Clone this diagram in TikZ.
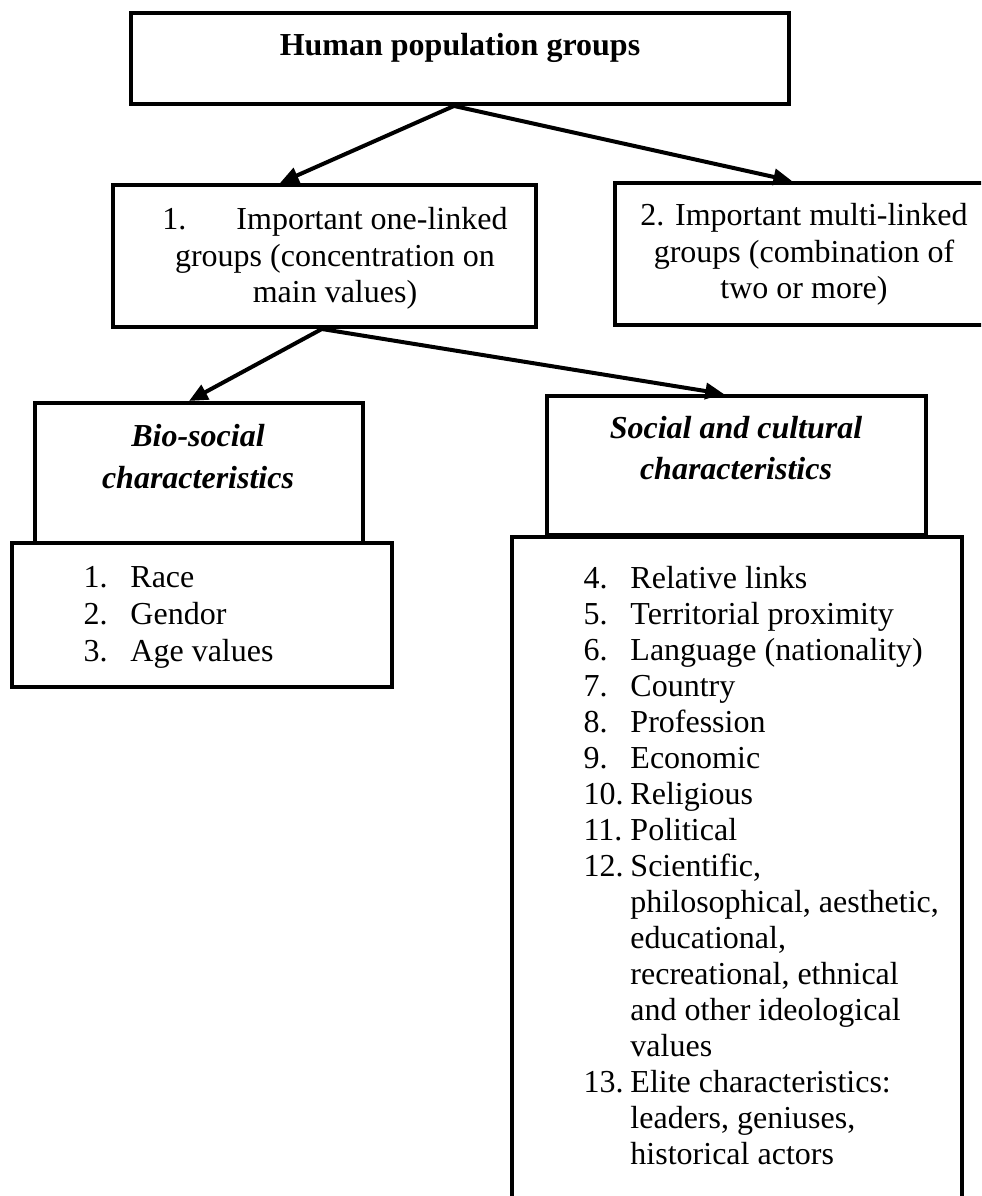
\documentclass[tikz,border=0pt]{standalone}
\usepackage{fontspec}
\setmainfont{Liberation Serif}
\usetikzlibrary{arrows.meta}

\newcommand{\numitem}[2]{\makebox[17.6pt][l]{#1}#2}
\newcommand{\contitem}[1]{\hspace*{17.6pt}#1}

\begin{document}
\begin{tikzpicture}[x=0.375pt, y=-0.375pt,
    box/.style={draw, line width=1.5pt, inner sep=0pt},
    txt/.style={inner sep=0pt, anchor=north},
    arr/.style={line width=1.5pt, -{Triangle[length=7pt,width=6pt]}}]
    \path[use as bounding box, clip] (0,0) rectangle (981,1196);

    % Top box
    \node[box, minimum width=246.75pt, minimum height=34.1pt] (top) at (460,58.5) {};
    \node[inner sep=0pt, anchor=base, font=\fontsize{12}{13.5}\selectfont\bfseries] (topt) at (460,56) {Human population groups};

    % Second level
    \node[box, minimum width=158.6pt, minimum height=53.25pt] (one) at (324.5,256) {};
    \node[txt, align=center, font=\fontsize{12}{13.7}\selectfont] (onet) at (335,203.5)
        {\strut 1.\hspace{18.75pt}Important one-linked\\groups (concentration on\\main values)};
    \node[box, minimum width=141pt, minimum height=53.25pt] (two) at (803,254) {};
    \node[txt, align=center, font=\fontsize{12}{13.7}\selectfont] (twot) at (804,199.5)
        {\strut 2. Important multi-linked\\groups (combination of\\two or more)};

    % Third level - headers
    \node[box, minimum width=123pt, minimum height=52.5pt] (bio) at (199,473) {};
    \node[txt, align=center, font=\fontsize{12}{15.6}\selectfont\bfseries\itshape] (biot) at (198,417)
        {\strut Bio-social\\characteristics};
    \node[box, minimum width=142.1pt, minimum height=52.1pt] (soc) at (736.5,465.5) {};
    \node[txt, align=center, font=\fontsize{12}{15.2}\selectfont\bfseries\itshape] (soct) at (736,410)
        {\strut Social and cultural\\characteristics};

    % Third level - lists
    \node[box, minimum width=142.5pt, minimum height=54pt] (bioL) at (202,615) {};
    \node[txt, anchor=north west, align=left, font=\fontsize{12}{13.8}\selectfont] (bioLt) at (83,561.5)
        {\strut\numitem{1.}{Race}\\\numitem{2.}{Gendor}\\\numitem{3.}{Age values}};
    \node[box, minimum width=168.75pt, minimum height=255pt] (socL) at (737,877) {};
    \node[txt, anchor=north west, align=left, font=\fontsize{12}{13.5}\selectfont] (socLt) at (583,562.8)
        {\strut\numitem{4.}{Relative links}\\
         \numitem{5.}{Territorial proximity}\\
         \numitem{6.}{Language (nationality)}\\
         \numitem{7.}{Country}\\
         \numitem{8.}{Profession}\\
         \numitem{9.}{Economic}\\
         \numitem{10.}{Religious}\\
         \numitem{11.}{Political}\\
         \numitem{12.}{Scientific,}\\
         \contitem{philosophical, aesthetic,}\\
         \contitem{educational,}\\
         \contitem{recreational, ethnical}\\
         \contitem{and other ideological}\\
         \contitem{values}\\
         \numitem{13.}{Elite characteristics:}\\
         \contitem{leaders, geniuses,}\\
         \contitem{historical actors}};

    % Arrows
    \draw[arr] ([xshift=-2.25pt]top.south) -- ([xshift=-16.7pt]one.north);
    \draw[arr] ([xshift=-2.25pt]top.south) -- ([xshift=-4.1pt]two.north);
    \draw[arr] ([xshift=-1pt]one.south) -- ([xshift=-3.75pt]bio.north);
    \draw[arr] ([xshift=-1pt]one.south) -- ([xshift=-4.7pt]soc.north);
\end{tikzpicture}
\end{document}
